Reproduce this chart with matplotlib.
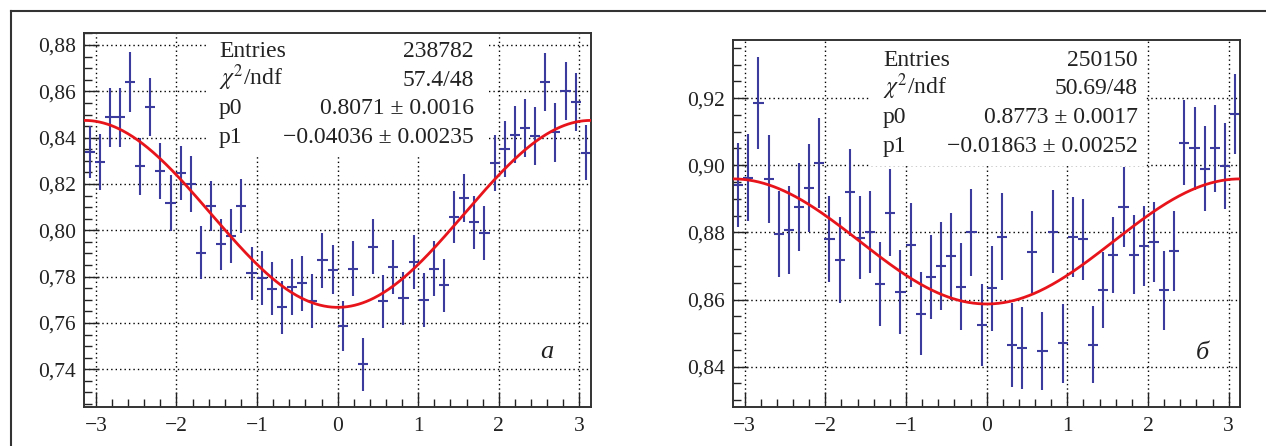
import numpy as np
import matplotlib
matplotlib.use("Agg")
import matplotlib.pyplot as plt
from matplotlib.ticker import MultipleLocator, FuncFormatter
from matplotlib.patches import Rectangle
from matplotlib.lines import Line2D

plt.rcParams["font.family"] = ["Liberation Serif", "DejaVu Serif"]
plt.rcParams["mathtext.fontset"] = "stix"

# histogram binning: 50 bins over [-pi, pi]
n_bins = 50
edges = np.linspace(-np.pi, np.pi, n_bins + 1)

# panel a
a_val = [0.8338, 0.8295, 0.8488, 0.8488, 0.8641, 0.8276, 0.8533, 0.8256, 0.8119, 0.8248,
         0.8200, 0.7904, 0.8106, 0.7940, 0.7976, 0.8106, 0.7814, 0.7794, 0.7748, 0.7668,
         0.7754, 0.7771, 0.7694, 0.7870, 0.7830, 0.7586, 0.7835, 0.7422, 0.7930, 0.7694,
         0.7840, 0.7707, 0.7863, 0.7698, 0.7835, 0.7762, 0.8059, 0.8140, 0.8034, 0.7987,
         0.8291, 0.8352, 0.8412, 0.8442, 0.8407, 0.8639, 0.8424, 0.8600, 0.8553, 0.8336]
a_err = [0.0112, 0.0122, 0.0128, 0.0128, 0.0130, 0.0122, 0.0125, 0.0122, 0.0120, 0.0118,
         0.0120, 0.0113, 0.0109, 0.0111, 0.0116, 0.0117, 0.0116, 0.0115, 0.0115, 0.0115,
         0.0120, 0.0118, 0.0116, 0.0118, 0.0105, 0.0107, 0.0120, 0.0115, 0.0118, 0.0115,
         0.0117, 0.0115, 0.0115, 0.0116, 0.0117, 0.0115, 0.0112, 0.0102, 0.0115, 0.0116,
         0.0122, 0.0120, 0.0123, 0.0125, 0.0127, 0.0125, 0.0127, 0.0125, 0.0125, 0.0117]
a_p0, a_p1 = 0.8071, -0.04036
a_stats = [("Entries", "238782"),
           (r"$\chi^{2}$/ndf", "57.4/48"),
           ("p0", "0.8071 \u00b1 0.0016"),
           ("p1", "\u22120.04036 \u00b1 0.00235")]

# panel b
b_val = [0.8941, 0.8963, 0.9185, 0.8959, 0.8795, 0.8807, 0.8876, 0.8931, 0.9007, 0.8781,
         0.8718, 0.8919, 0.8784, 0.8800, 0.8646, 0.8859, 0.8623, 0.8762, 0.8558, 0.8667,
         0.8701, 0.8729, 0.8638, 0.8800, 0.8524, 0.8633, 0.8787, 0.8465, 0.8455, 0.8742,
         0.8447, 0.8802, 0.8470, 0.8787, 0.8779, 0.8466, 0.8628, 0.8733, 0.8876, 0.8734,
         0.8760, 0.8770, 0.8628, 0.8744, 0.9067, 0.9050, 0.8990, 0.9050, 0.8998, 0.9152]
b_err = [0.0124, 0.0130, 0.0136, 0.0132, 0.0128, 0.0130, 0.0132, 0.0131, 0.0133, 0.0128,
         0.0127, 0.0129, 0.0123, 0.0122, 0.0124, 0.0129, 0.0125, 0.0126, 0.0124, 0.0126,
         0.0131, 0.0129, 0.0129, 0.0130, 0.0121, 0.0127, 0.0129, 0.0125, 0.0123, 0.0123,
         0.0117, 0.0123, 0.0118, 0.0119, 0.0121, 0.0114, 0.0114, 0.0113, 0.0119, 0.0119,
         0.0120, 0.0119, 0.0118, 0.0120, 0.0126, 0.0124, 0.0127, 0.0129, 0.0129, 0.0120]
b_p0, b_p1 = 0.8773, -0.01863
b_stats = [("Entries", "250150"),
           (r"$\chi^{2}$/ndf", "50.69/48"),
           ("p0", "0.8773 \u00b1 0.0017"),
           ("p1", "\u22120.01863 \u00b1 0.00252")]

BLUE = "#3b3b9e"
RED = "#e8141c"


def draw_panel(ax, vals, errs, p0, p1, ylim, stats, box, text_x, rows_y, label, label_xy):
    centers = 0.5 * (edges[:-1] + edges[1:])
    half = 0.5 * (edges[1] - edges[0])
    ax.set_axisbelow(True)
    ax.grid(True, color="black", linestyle=(0, (1, 2.2)), linewidth=1.0)

    # stats box hides the grid behind it
    ax.add_patch(Rectangle((box[0], box[1]), box[2] - box[0], 1.0 - box[1],
                           transform=ax.transAxes, facecolor="white",
                           edgecolor="none", zorder=1))

    ax.errorbar(centers, vals, yerr=errs, xerr=half, fmt="none",
                ecolor=BLUE, elinewidth=1.5, capsize=0, zorder=2)

    xx = np.linspace(-np.pi, np.pi, 400)
    ax.plot(xx, p0 + p1 * np.cos(xx), color=RED, linewidth=2.0, zorder=3)

    ax.set_xlim(-np.pi, np.pi)
    ax.set_ylim(*ylim)
    ax.xaxis.set_major_locator(MultipleLocator(1))
    ax.xaxis.set_minor_locator(MultipleLocator(0.2))
    ax.yaxis.set_major_locator(MultipleLocator(0.02))
    ax.yaxis.set_minor_locator(MultipleLocator(0.005))
    ax.yaxis.set_major_formatter(FuncFormatter(lambda v, p: f"{v:.2f}".replace(".", ",")))
    ax.xaxis.set_major_formatter(FuncFormatter(lambda v, p: f"{v:.0f}".replace("-", "\u2212")))
    ax.tick_params(which="both", direction="in", top=False, right=False,
                   labelsize=15.5, colors="#222222", width=1.0)
    ax.tick_params(which="major", length=11)
    ax.tick_params(which="minor", length=6)
    ax.tick_params(axis="y", pad=6)
    ax.tick_params(axis="x", pad=7)
    for s in ax.spines.values():
        s.set_linewidth(1.4)
        s.set_color("#333333")

    for (name, value), y in zip(stats, rows_y):
        ax.text(text_x[0], y, name, transform=ax.transAxes, fontsize=17,
                ha="left", va="baseline", color="#222222", zorder=4)
        ax.text(text_x[1], y, value, transform=ax.transAxes, fontsize=17,
                ha="right", va="baseline", color="#222222", zorder=4)

    ax.text(label_xy[0], label_xy[1], label, transform=ax.transAxes, fontsize=19,
            style="italic", ha="center", va="center", color="#222222", zorder=4)


fig = plt.figure(figsize=(12.66, 4.46), dpi=100)
ax_a = fig.add_axes([0.0667, 0.0874, 0.4000, 0.8386])
ax_b = fig.add_axes([0.5791, 0.0868, 0.4005, 0.8235])

draw_panel(ax_a, a_val, a_err, a_p0, a_p1, (0.7237, 0.8852), a_stats,
           (0.242, 0.674, 0.799), (0.2656, 0.769),
           (0.9356, 0.8594, 0.7832, 0.7070), "a", (0.913, 0.147))
draw_panel(ax_b, b_val, b_err, b_p0, b_p1, (0.8279, 0.9373), b_stats,
           (0.272, 0.657, 0.814), (0.2955, 0.7984),
           (0.930, 0.8525, 0.7743, 0.6962), "\u0431", (0.9266, 0.148))

# outer frame (left and top edges)
fig.add_artist(Line2D([11 / 1266, 11 / 1266], [0, 1 - 10.7 / 446],
                      transform=fig.transFigure, color="#333333", linewidth=1.5))
fig.add_artist(Line2D([11 / 1266, 1], [1 - 10.7 / 446, 1 - 10.7 / 446],
                      transform=fig.transFigure, color="#333333", linewidth=1.5))

fig.savefig("out.png", dpi=100)
